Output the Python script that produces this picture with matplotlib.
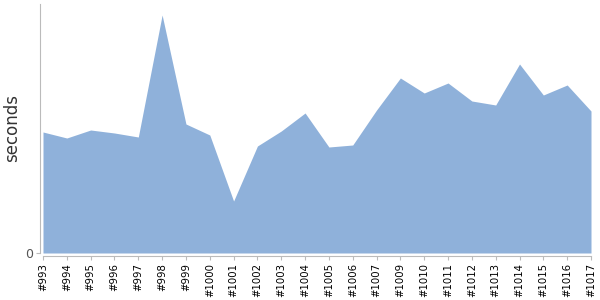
import matplotlib
matplotlib.use("Agg")
import matplotlib.pyplot as plt

builds = ["#993", "#994", "#995", "#996", "#997", "#998", "#999", "#1000",
          "#1001", "#1002", "#1003", "#1004", "#1005", "#1006", "#1007",
          "#1009", "#1010", "#1011", "#1012", "#1013", "#1014", "#1015",
          "#1016", "#1017"]
seconds = [121, 115, 123, 120, 116, 238, 129, 118, 52, 107, 122, 140,
           106, 108, 143, 175, 160, 170, 152, 148, 189, 158, 168, 142]

fig = plt.figure(figsize=(6, 3), dpi=100)
ax = fig.add_axes([43 / 600, 47 / 300, 548 / 600, 249 / 300])

x = list(range(len(builds)))
ax.fill_between(x, 0, seconds, color="#8FB1DA", linewidth=0)

ax.set_xlim(0, len(builds) - 1)
ax.set_ylim(0, 249)
ax.set_xticks(x)
ax.set_xticklabels(builds)
ax.set_yticks([0])
ax.set_yticklabels(["0"])
ax.set_ylabel("seconds", fontsize=12, color="#333333", labelpad=3)

for s in ["top", "right"]:
    ax.spines[s].set_visible(False)
for s in ["left", "bottom"]:
    ax.spines[s].set_color("#bbbbbb")
    ax.spines[s].set_position(("outward", 2.5))
ax.tick_params(axis="both", color="#bbbbbb", length=3, pad=1.5)
ax.tick_params(axis="x", labelrotation=90, labelsize=7.3, labelcolor="black")
ax.tick_params(axis="y", labelsize=9, labelcolor="#555555")

fig.savefig("out.png", dpi=100)
